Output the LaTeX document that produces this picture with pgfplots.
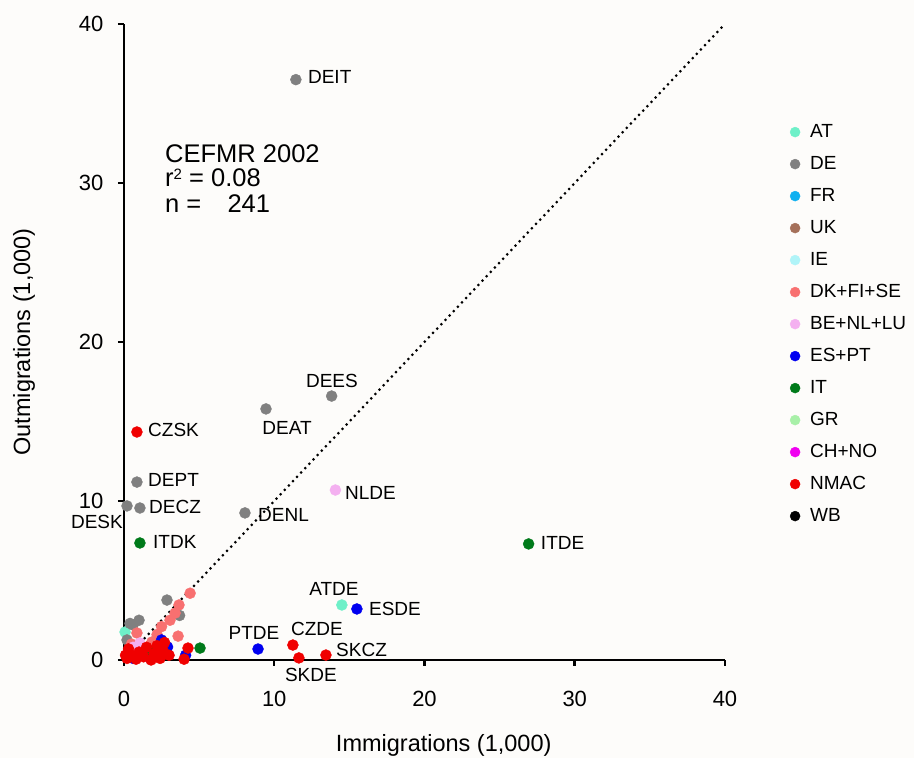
\documentclass[border=0pt]{standalone}
\usepackage{fontspec}
\setmainfont{Liberation Sans}
\usepackage{pgfplots}
\pgfplotsset{compat=1.18}
\definecolor{bgc}{RGB}{253,252,250}
\definecolor{cAT}{RGB}{110,240,200}
\definecolor{cDE}{RGB}{128,128,128}
\definecolor{cFR}{RGB}{16,176,240}
\definecolor{cUK}{RGB}{165,112,90}
\definecolor{cIE}{RGB}{176,244,248}
\definecolor{cDK}{RGB}{248,112,112}
\definecolor{cBE}{RGB}{244,176,240}
\definecolor{cES}{RGB}{0,0,240}
\definecolor{cIT}{RGB}{0,122,26}
\definecolor{cGR}{RGB}{168,240,168}
\definecolor{cCH}{RGB}{240,0,240}
\definecolor{cNM}{RGB}{240,0,0}
\definecolor{cWB}{RGB}{0,0,0}
\pgfplotsset{dot/.style={only marks, mark=*, mark size=5.5pt, color=#1, forget plot},
  lg/.style={only marks, mark=*, mark size=5pt, color=#1}}
\tikzset{lab/.style={font=\fontsize{19}{22}\selectfont, inner sep=0pt},
  big/.style={anchor=base west, inner sep=0pt, font=\fontsize{25.5}{25.5}\selectfont}}
\begin{document}
\begin{tikzpicture}
\fill[bgc] (0,0) rectangle (914pt,758pt);
\begin{axis}[
  at={(124pt,98pt)}, anchor=south west,
  scale only axis, width=601pt, height=636pt,
  xmin=0, xmax=40, ymin=0, ymax=40,
  axis x line=bottom, axis y line=left,
  axis line style={-, line width=2.7pt},
  xtick={0,10,20,30,40}, ytick={0,10,20,30,40},
  tick align=outside, major tick length=6pt,
  tick style={line width=2.5pt, black},
  ticklabel style={font=\fontsize{22}{26}\selectfont},
  /pgf/number format/assume math mode=true,
  xticklabel style={yshift=-22pt},
  yticklabel style={xshift=-11pt},
  xlabel={Immigrations (1,000)}, ylabel={Outmigrations (1,000)},
  label style={font=\fontsize{23.5}{28}\selectfont},
  xlabel style={at={(axis description cs:0.532,-0.1336)}, anchor=center},
  ylabel style={at={(axis description cs:-0.1664,0.5)}, anchor=center},
  clip=false,
  legend cell align=left,
  legend image code/.code={\draw[mark repeat=2,mark phase=2,#1] plot coordinates {(0pt,0pt) (5pt,0pt) (10pt,0pt)};},
  legend style={draw=none, fill=none, at={(axis description cs:1.108,0.8445)}, anchor=north west,
    inner sep=0pt, row sep=14pt,
    nodes={inner sep=0pt, text height=14pt, text depth=4pt, font=\fontsize{19}{22}\selectfont},
    /tikz/every odd column/.append style={column sep=10pt}},
]
% diagonal
\addplot[forget plot, line width=3pt, line cap=round, dash pattern=on 0pt off 6pt] coordinates {(0,0) (40,40)};
% AT
\addplot[dot=cAT] coordinates {(14.5,3.46) (0.07,1.76)};
% DE
\addplot[dot=cDE] coordinates {(11.44,36.5) (13.82,16.6) (9.45,15.79) (8.05,9.25) (0.86,11.19) (1.06,9.56) (0.2,9.69)
  (2.86,3.77) (3.7,2.8) (1.0,2.5) (0.4,2.3) (0.2,1.26) (0.6,2.2)};
% DK+FI+SE
\addplot[dot=cDK] coordinates {(4.4,4.2) (3.66,3.46) (3.4,2.95) (3.06,2.5) (2.5,2.1) (3.6,1.5) (1.86,1.13) (0.86,1.7) (0.5,1.0) (1.3,0.6) (2.2,1.6)};
% BE+NL+LU
\addplot[dot=cBE] coordinates {(14.07,10.69) (1.06,1.07) (0.27,0.44) (0.6,0.8)};
% ES+PT
\addplot[dot=cES] coordinates {(15.5,3.21) (8.92,0.69) (2.5,1.26) (2.9,0.82) (1.73,0.13) (4.1,0.3) (0.6,0.1)};
% IT
\addplot[dot=cIT] coordinates {(26.93,7.30) (1.06,7.36) (5.06,0.75) (1.73,0.57)};
% NMAC
\addplot[dot=cNM] coordinates {(0.86,14.34) (11.24,0.94) (11.64,0.13) (13.44,0.31) (4.26,0.75) (4.0,0.05)
  (0.2,0.1) (0.5,0.3) (0.8,0.05) (1.0,0.5) (1.3,0.2) (1.5,0.8) (2.0,0.4) (2.2,0.9) (2.4,0.1) (2.6,0.6)
  (2.7,1.1) (0.3,0.7) (1.8,0.0) (3.0,0.3) (0.1,0.3) (2.3,0.3)};
% legend
\addlegendimage{lg=cAT}\addlegendentry{AT}
\addlegendimage{lg=cDE}\addlegendentry{DE}
\addlegendimage{lg=cFR}\addlegendentry{FR}
\addlegendimage{lg=cUK}\addlegendentry{UK}
\addlegendimage{lg=cIE}\addlegendentry{IE}
\addlegendimage{lg=cDK}\addlegendentry{DK+FI+SE}
\addlegendimage{lg=cBE}\addlegendentry{BE+NL+LU}
\addlegendimage{lg=cES}\addlegendentry{ES+PT}
\addlegendimage{lg=cIT}\addlegendentry{IT}
\addlegendimage{lg=cGR}\addlegendentry{GR}
\addlegendimage{lg=cCH}\addlegendentry{CH+NO}
\addlegendimage{lg=cNM}\addlegendentry{NMAC}
\addlegendimage{lg=cWB}\addlegendentry{WB}
% labels
\node[lab, anchor=west] at (axis cs:12.24,36.67) {DEIT};
\node[lab] at (axis cs:13.84,17.55) {DEES};
\node[lab] at (axis cs:10.85,14.59) {DEAT};
\node[lab, anchor=west] at (axis cs:14.70,10.50) {NLDE};
\node[lab, anchor=west] at (axis cs:8.92,9.12) {DENL};
\node[lab, anchor=west] at (axis cs:27.74,7.36) {ITDE};
\node[lab] at (axis cs:13.97,4.47) {ATDE};
\node[lab, anchor=west] at (axis cs:16.30,3.21) {ESDE};
\node[lab] at (axis cs:12.84,1.95) {CZDE};
\node[lab, anchor=west] at (axis cs:14.11,0.63) {SKCZ};
\node[lab] at (axis cs:12.44,-0.94) {SKDE};
\node[lab] at (axis cs:8.65,1.70) {PTDE};
\node[lab, anchor=west] at (axis cs:1.60,14.47) {CZSK};
\node[lab, anchor=west] at (axis cs:1.60,11.32) {DEPT};
\node[lab, anchor=west] at (axis cs:1.66,9.62) {DECZ};
\node[lab] at (axis cs:-1.80,8.68) {DESK};
\node[lab, anchor=west] at (axis cs:1.93,7.42) {ITDK};
\node[big] at (axis cs:2.73,31.26) {CEFMR 2002};
\node[big] at (axis cs:2.73,29.78) {r\raisebox{0.5ex}{\fontsize{15}{15}\selectfont 2} = 0.08};
\node[big] at (axis cs:2.73,28.15) {n = \hspace{0.75em}241};
\end{axis}
\end{tikzpicture}
\end{document}
